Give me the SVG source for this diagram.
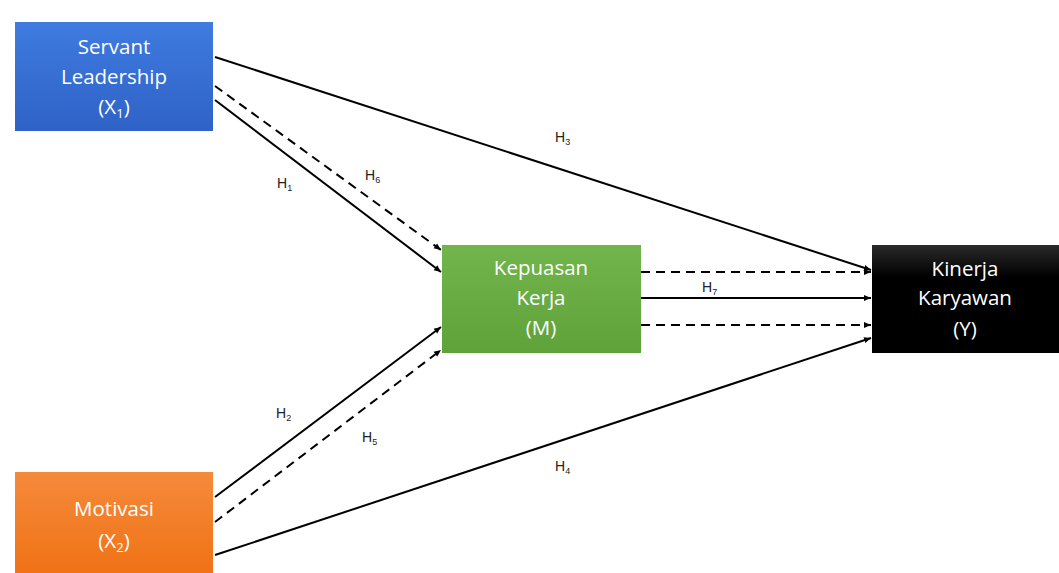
<svg xmlns="http://www.w3.org/2000/svg" width="1059" height="573" viewBox="0 0 1059 573">
<defs>
<linearGradient id="gBlue" x1="0" y1="0" x2="0" y2="1"><stop offset="0" stop-color="#3f7be0"/><stop offset="1" stop-color="#2f62c6"/></linearGradient>
<linearGradient id="gOrange" x1="0" y1="0" x2="0" y2="1"><stop offset="0" stop-color="#f58a3c"/><stop offset="1" stop-color="#f07215"/></linearGradient>
<linearGradient id="gGreen" x1="0" y1="0" x2="0" y2="1"><stop offset="0" stop-color="#71b54c"/><stop offset="1" stop-color="#5fa23a"/></linearGradient>
<linearGradient id="gBlack" x1="0" y1="0" x2="0" y2="1"><stop offset="0" stop-color="#2a2a2a"/><stop offset="0.3" stop-color="#000"/><stop offset="1" stop-color="#000"/></linearGradient>
<marker id="arr" markerWidth="8" markerHeight="8" refX="7" refY="4" orient="auto" markerUnits="userSpaceOnUse"><path d="M0,1 L7,4 L0,7 Z" fill="#000"/></marker>
</defs>
<style>
.node text{font-family:"Open Sans","Liberation Sans",sans-serif;font-size:20.5px;fill:#fff;text-anchor:middle}
.c{stroke:#000;stroke-width:2;fill:none;marker-end:url(#arr)}
.d{stroke-dasharray:9,6}
.lbl{font-family:"Liberation Sans",sans-serif;font-size:14px;fill:#222}
.sub{font-size:9px}
</style>
<rect width="1059" height="573" fill="#fff"/>
<g id="connectors">
<line class="c" x1="215" y1="57" x2="871" y2="270"/>
<line class="c d" x1="215" y1="86" x2="441" y2="250"/>
<line class="c" x1="215" y1="100" x2="441" y2="272"/>
<line class="c" x1="215" y1="497" x2="441" y2="327"/>
<line class="c d" x1="215" y1="522" x2="441" y2="350"/>
<line class="c" x1="215" y1="555" x2="871" y2="338"/>
<line class="c d" x1="641" y1="272" x2="871" y2="272"/>
<line class="c" x1="641" y1="298" x2="871" y2="298"/>
<line class="c d" x1="641" y1="325" x2="871" y2="325"/>
<text class="lbl" x="277" y="188">H<tspan class="sub" dy="3">1</tspan></text>
<text class="lbl" x="365" y="180">H<tspan class="sub" dy="3">6</tspan></text>
<text class="lbl" x="555" y="142">H<tspan class="sub" dy="3">3</tspan></text>
<text class="lbl" x="702" y="292">H<tspan class="sub" dy="3">7</tspan></text>
<text class="lbl" x="276" y="418">H<tspan class="sub" dy="3">2</tspan></text>
<text class="lbl" x="362" y="442">H<tspan class="sub" dy="3">5</tspan></text>
<text class="lbl" x="555" y="471">H<tspan class="sub" dy="3">4</tspan></text>
</g>
<g id="node-x1" class="node">
<rect x="15" y="22" width="198" height="109" fill="url(#gBlue)"/>
<text x="114" y="54">Servant</text>
<text x="114" y="84">Leadership</text>
<text x="114" y="114">(X<tspan font-size="13" dy="4">1</tspan><tspan dy="-4">)</tspan></text>
</g>
<g id="node-x2" class="node">
<rect x="15" y="472" width="198" height="101" fill="url(#gOrange)"/>
<text x="114" y="516">Motivasi</text>
<text x="114" y="548">(X<tspan font-size="13" dy="4">2</tspan><tspan dy="-4">)</tspan></text>
</g>
<g id="node-m" class="node">
<rect x="442" y="245" width="199" height="108" fill="url(#gGreen)"/>
<text x="541" y="275">Kepuasan</text>
<text x="541" y="305">Kerja</text>
<text x="541" y="335">(M)</text>
</g>
<g id="node-y" class="node">
<rect x="872" y="245" width="187" height="108" fill="url(#gBlack)"/>
<text x="965" y="276">Kinerja</text>
<text x="965" y="305">Karyawan</text>
<text x="965" y="336">(Y)</text>
</g>
</svg>
